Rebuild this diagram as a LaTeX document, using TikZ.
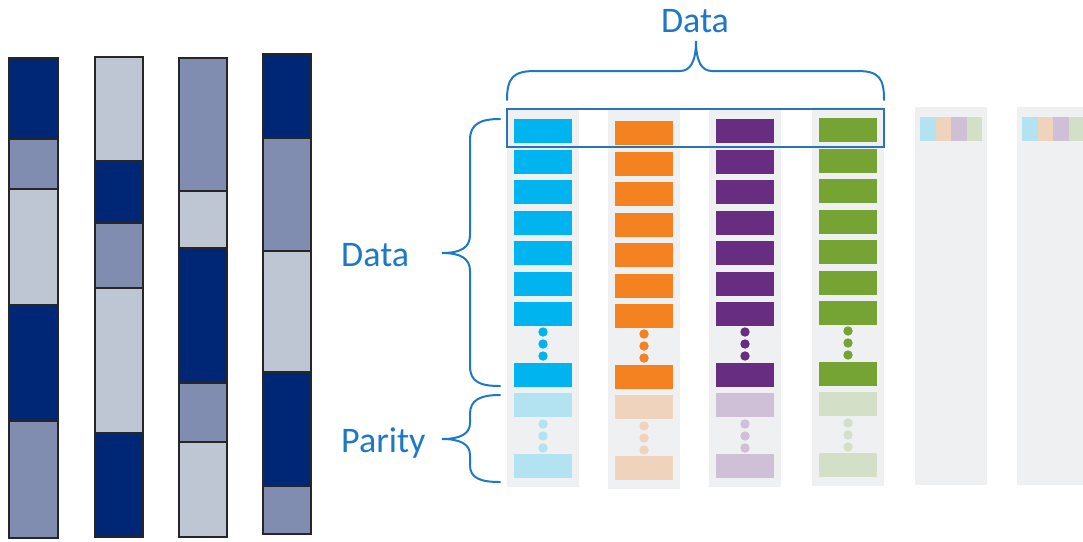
\documentclass[tikz,border=0pt]{standalone}
\usepackage{fontspec}
\setmainfont{Carlito}
\definecolor{dk}{HTML}{002776}
\definecolor{md}{HTML}{818DB0}
\definecolor{lt}{HTML}{BFC6D3}
\definecolor{barstroke}{HTML}{262626}
\definecolor{colbg}{HTML}{EFF0F2}
\definecolor{bluetxt}{HTML}{1E78C8}
\definecolor{framec}{HTML}{2A73B8}
\definecolor{cyanS}{HTML}{00B5EF}
\definecolor{cyanL}{HTML}{B3E3F1}
\definecolor{orangeS}{HTML}{F58220}
\definecolor{orangeL}{HTML}{EFD3BD}
\definecolor{purpleS}{HTML}{662D81}
\definecolor{purpleL}{HTML}{CFBFD7}
\definecolor{greenS}{HTML}{76A434}
\definecolor{greenL}{HTML}{D3DFC6}
\tikzset{
  barline/.style={draw=barstroke, line width=2pt},
  brace/.style={draw=bluetxt, line width=2pt, line cap=round},
  lbl/.style={text=bluetxt, font=\fontsize{36}{40}\selectfont, inner sep=0pt},
}
% one striped disk: left x, right x, list of top/bottom/colour
\newcommand\diskbar[3]{%
  \foreach \ya/\yb/\cc in {#3} {\draw[barline, fill=\cc] (#1,\ya) rectangle (#2,\yb);}}
% one data column: background left x, vertical shift, strong colour, light colour
\newcommand\datacol[4]{%
  \fill[colbg] (#1,108+#2) rectangle (#1+72,487+#2);
  \foreach \i in {0,...,6} {\fill[#3] (#1+7,{119+\i*30.5+#2}) rectangle (#1+65,{143+\i*30.5+#2});}
  \foreach \yy in {332,344,356} {\fill[#3] (#1+36,\yy+#2) circle (4.7);}
  \fill[#3] (#1+7,363+#2) rectangle (#1+65,387+#2);
  \fill[#4] (#1+7,393+#2) rectangle (#1+65,417+#2);
  \foreach \yy in {424,436,448} {\fill[#4] (#1+36,\yy+#2) circle (4.7);}
  \fill[#4] (#1+7,454+#2) rectangle (#1+65,478+#2);
}
% a faded column holding one stripe of the four colours
\newcommand\stripecol[1]{%
  \fill[colbg] (#1,107) rectangle (#1+72,485);
  \fill[cyanL] (#1+5,117) rectangle (#1+20.5,141);
  \fill[orangeL] (#1+20.5,117) rectangle (#1+36,141);
  \fill[purpleL] (#1+36,117) rectangle (#1+51.5,141);
  \fill[greenL] (#1+51.5,117) rectangle (#1+67,141);
}
\begin{document}
\begin{tikzpicture}[x=1pt,y=-1pt]
\useasboundingbox (0,0) rectangle (1083,541);
% striped disks on the left
\diskbar{9}{58}{58/139/dk,139/189/md,189/305/lt,305/421/dk,421/538/md}
\diskbar{95}{143}{57/161/lt,161/223/dk,223/288/md,288/433/lt,433/537/dk}
\diskbar{179}{227}{58/191/md,191/248/lt,248/383/dk,383/442/md,442/537/lt}
\diskbar{263}{311}{54/138/dk,138/251/md,251/372/lt,372/486/dk,486/534/md}
% data columns
\datacol{507}{0}{cyanS}{cyanL}
\datacol{608}{2}{orangeS}{orangeL}
\datacol{709}{0}{purpleS}{purpleL}
\datacol{812}{-1}{greenS}{greenL}
\stripecol{915}
\stripecol{1017}
% highlighted stripe
\draw[framec, line width=2pt] (507,109) rectangle (884,147);
% braces
\coordinate (tbL) at (507,100);
\coordinate (tbR) at (884,100);
\coordinate (tbTip) at (696,41);
\draw[brace] (tbL) .. controls (507,78) and (513,71) .. (535,71) -- (680,71)
  .. controls (690,71) and (696,62) .. (tbTip)
  .. controls (696,62) and (702,71) .. (712,71) -- (857,71)
  .. controls (879,71) and (884,78) .. (tbR);
\coordinate (dbT) at (500,119);
\coordinate (dbB) at (500,386);
\coordinate (dbTip) at (442,253);
\draw[brace] (dbT) .. controls (480,119) and (470,124) .. (470,140) -- (470,235)
  .. controls (470,248) and (460,253) .. (dbTip)
  .. controls (460,253) and (470,258) .. (470,271) -- (470,366)
  .. controls (470,382) and (480,386) .. (dbB);
\coordinate (pbT) at (500,395);
\coordinate (pbB) at (500,482);
\coordinate (pbTip) at (442,439);
\draw[brace] (pbT) .. controls (480,395) and (470,400) .. (470,414) -- (470,423)
  .. controls (470,434) and (460,439) .. (pbTip)
  .. controls (460,439) and (470,444) .. (470,455) -- (470,465)
  .. controls (470,478) and (480,482) .. (pbB);
% labels
\node[lbl, anchor=base] (topdata) at (695,32) {Data};
\node[lbl, anchor=base west] (sidedata) at (341,266) {Data};
\node[lbl, anchor=base west] (parity) at (341,452) {Parity};
\end{tikzpicture}
\end{document}
